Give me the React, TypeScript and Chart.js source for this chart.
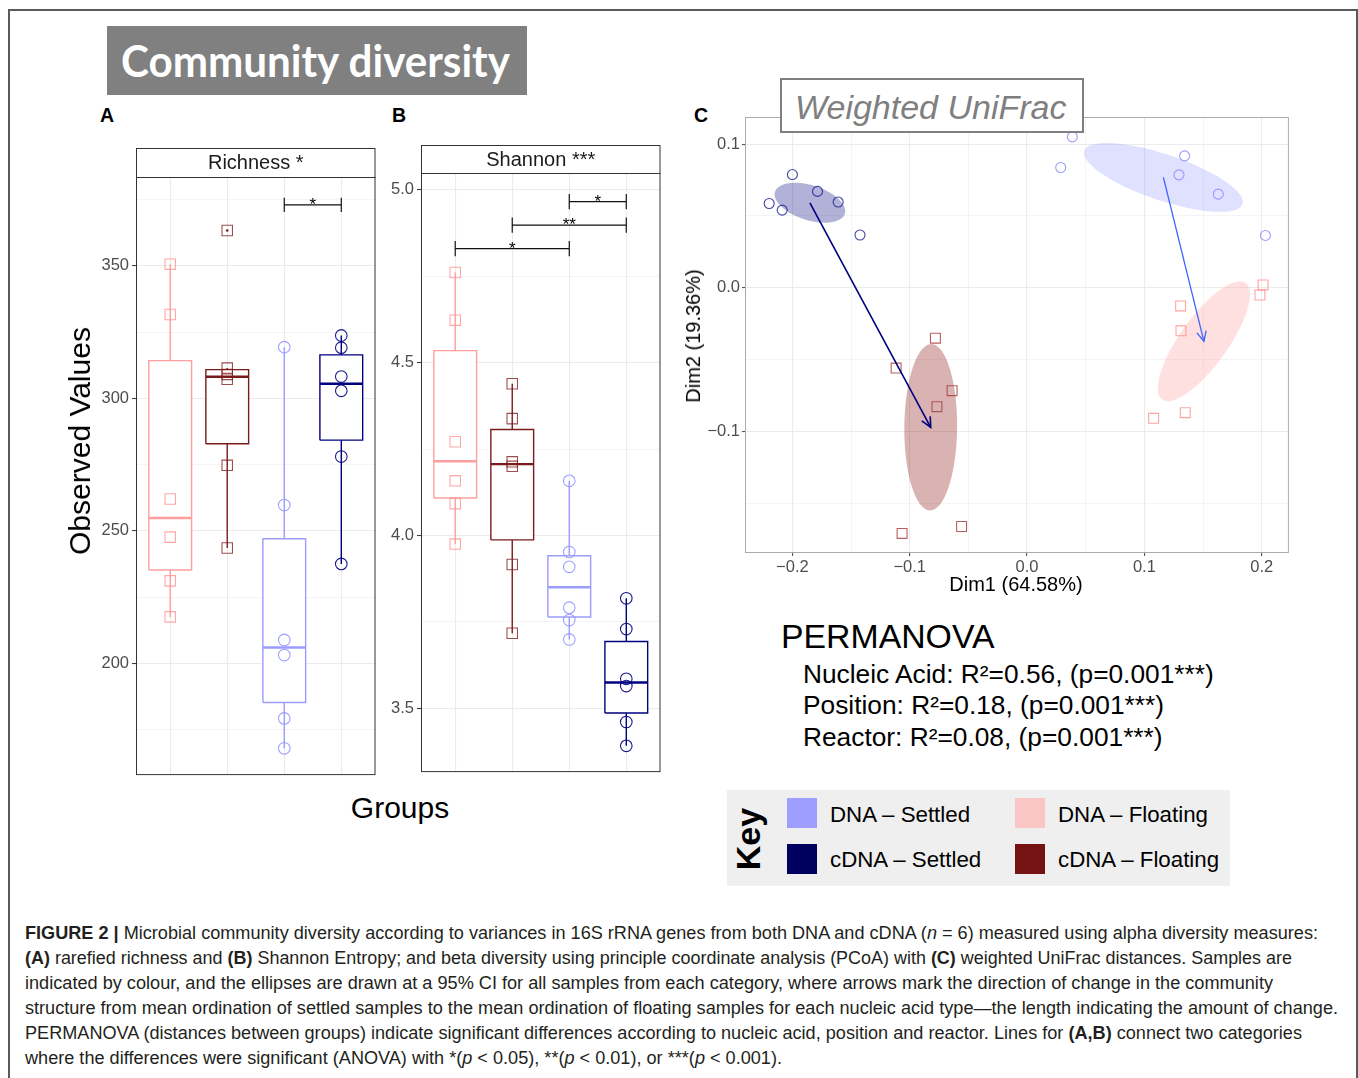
import React, { useEffect, useLayoutEffect, useRef } from 'react';
import { Chart, registerables } from 'chart.js';

Chart.register(...registerables);

const FONT = '"Liberation Sans", Arial, Helvetica, sans-serif';

// ---------- categories (box plots, left to right) ----------
const categories = ['DNA – Floating', 'cDNA – Floating', 'DNA – Settled', 'cDNA – Settled'];
const boxLineColors = ['#FF9E9E', '#7A1B1B', '#9C9CFF', '#00007F'];
const boxMarkerColors = ['rgba(255,150,150,0.85)', 'rgba(128,28,28,0.78)', 'rgba(150,150,255,0.9)', 'rgba(0,0,128,0.9)'];
const boxMarkerShapes = ['rect', 'rect', 'circle', 'circle'];

// ---------- A: Richness (observed values) ----------
const richnessDnaFloating = [350.6, 331.6, 262.0, 247.6, 231.1, 217.5];
const richnessCdnaFloating = [363.3, 311.4, 309.0, 307.2, 274.7, 243.5];
const richnessDnaSettled = [319.3, 259.7, 208.8, 203.1, 179.2, 167.9];
const richnessCdnaSettled = [323.7, 319.1, 308.2, 302.8, 278.0, 237.5];
const richnessTicks = [175, 200, 225, 250, 275, 300, 325, 350, 375];
const richnessLabelTicks = [200, 250, 300, 350];
const richnessTickLabels = ['200', '250', '300', '350'];
const richnessSigFrom = [3];
const richnessSigTo = [4];
const richnessSigY = [373];
const richnessSigLabel = ['*'];

// ---------- B: Shannon ----------
const shannonDnaFloating = [4.761, 4.623, 4.271, 4.158, 4.092, 3.975];
const shannonCdnaFloating = [4.439, 4.338, 4.213, 4.2, 3.916, 3.717];
const shannonDnaSettled = [4.158, 3.952, 3.909, 3.791, 3.755, 3.699];
const shannonCdnaSettled = [3.818, 3.729, 3.585, 3.564, 3.46, 3.391];
const shannonTicks = [3.5, 3.75, 4.0, 4.25, 4.5, 4.75, 5.0];
const shannonLabelTicks = [3.5, 4.0, 4.5, 5.0];
const shannonTickLabels = ['3.5', '4.0', '4.5', '5.0'];
const shannonSigFrom = [3, 2, 1];
const shannonSigTo = [4, 4, 3];
const shannonSigY = [4.966, 4.898, 4.83];
const shannonSigLabel = ['*', '**', '*'];

// ---------- C: Weighted UniFrac PCoA ----------
const ordGroups = ['DNA – Settled', 'cDNA – Settled', 'DNA – Floating', 'cDNA – Floating'];
const dim1DnaSettled = [0.0386, 0.0287, 0.1343, 0.1295, 0.163, 0.2032];
const dim2DnaSettled = [0.105, 0.0837, 0.0918, 0.0786, 0.0652, 0.0365];
const dim1CdnaSettled = [-0.2, -0.1786, -0.161, -0.2198, -0.2087, -0.1424];
const dim2CdnaSettled = [0.0788, 0.0671, 0.0597, 0.0587, 0.0541, 0.0368];
const dim1DnaFloating = [0.2012, 0.1985, 0.1309, 0.1312, 0.1349, 0.1079];
const dim2DnaFloating = [0.0021, -0.0049, -0.0125, -0.0298, -0.0867, -0.0906];
const dim1CdnaFloating = [-0.0781, -0.1116, -0.0639, -0.0768, -0.0558, -0.1065];
const dim2CdnaFloating = [-0.0349, -0.0557, -0.0714, -0.0825, -0.1658, -0.1706];
// conjugate semi-axes of the 95% ellipses (data units), order as ordGroups
const ellipseU = [[0.0674, -0.01853], [0.02977, -0.00763], [0.0355, 0.0405], [0.0005, 0.0578]];
const ellipseV = [[-0.00631, -0.01513], [-0.00448, -0.01159], [0.01666, -0.00967], [0.0225, 0]];
const ordMarkerColors = ['rgba(140,140,255,0.85)', 'rgba(20,20,140,0.8)', 'rgba(255,140,140,0.8)', 'rgba(165,55,55,0.8)'];
const ordMarkerShapes = ['circle', 'circle', 'rect', 'rect'];
const ellipseFills = ['rgba(153,153,255,0.3)', 'rgba(0,0,128,0.3)', 'rgba(255,153,153,0.3)', 'rgba(128,0,0,0.3)'];
const arrowColors = ['#3F63FF', '#00007F'];
const dim1Ticks = [-0.2, -0.15, -0.1, -0.05, 0, 0.05, 0.1, 0.15, 0.2];
const dim1LabelTicks = [-0.2, -0.1, 0, 0.1, 0.2];
const dim1TickLabels = ['−0.2', '−0.1', '0.0', '0.1', '0.2'];
const dim2Ticks = [-0.15, -0.1, -0.05, 0, 0.05, 0.1];
const dim2LabelTicks = [-0.1, 0, 0.1];
const dim2TickLabels = ['−0.1', '0.0', '0.1'];

// ---------- key ----------
const keyLabels = ['DNA – Settled', 'DNA – Floating', 'cDNA – Settled', 'cDNA – Floating'];
const keyColors = ['#9E9EFF', '#F9C5C5', '#00005F', '#751212'];

// ---------- helpers ----------
const mean = (a: number[]) => a.reduce((s, v) => s + v, 0) / a.length;
function quantile(sorted: number[], p: number) {
  const h = (sorted.length - 1) * p;
  const lo = Math.floor(h);
  const hi = Math.min(lo + 1, sorted.length - 1);
  return sorted[lo] + (h - lo) * (sorted[hi] - sorted[lo]);
}
function boxStats(vals: number[]) {
  const s = [...vals].sort((a, b) => a - b);
  const q1 = quantile(s, 0.25), med = quantile(s, 0.5), q3 = quantile(s, 0.75);
  const iqr = q3 - q1;
  const inside = s.filter((v) => v >= q1 - 1.5 * iqr && v <= q3 + 1.5 * iqr);
  const out = s.filter((v) => v < q1 - 1.5 * iqr || v > q3 + 1.5 * iqr);
  return { q1, med, q3, lo: inside[0], hi: inside[inside.length - 1], out };
}
const near = (list: number[], v: number) => list.findIndex((t) => Math.abs(t - v) < 1e-9);
const seg = (data: any[], color: string, w: number) => ({
  type: 'line', data, borderColor: color, borderWidth: w, pointRadius: 0, pointHoverRadius: 0,
  fill: false, tension: 0, borderCapStyle: 'butt', borderJoinStyle: 'miter',
});

function makeBoxConfig(o: any) {
  const stats = o.values.map(boxStats);
  const HW = 0.375;
  const datasets: any[] = [];
  o.values.forEach((vals: number[], i: number) =>
    datasets.push({
      type: 'scatter', data: vals.map((v) => ({ x: i + 1, y: v })), pointStyle: boxMarkerShapes[i],
      pointRadius: boxMarkerShapes[i] === 'rect' ? 7.4 : 5.8, borderColor: boxMarkerColors[i],
      backgroundColor: 'rgba(0,0,0,0)', borderWidth: 1.1, pointHoverRadius: 0,
    })
  );
  stats.forEach((s: any, i: number) => {
    if (s.out.length)
      datasets.push({ type: 'scatter', data: s.out.map((v: number) => ({ x: i + 1, y: v })), pointStyle: 'circle', pointRadius: 1.3, borderWidth: 0, backgroundColor: boxLineColors[i] });
  });
  stats.forEach((s: any, i: number) => datasets.push(seg([{ x: i + 1 - HW, y: s.med }, { x: i + 1 + HW, y: s.med }], boxLineColors[i], 2.4)));
  stats.forEach((s: any, i: number) => {
    datasets.push(seg([{ x: i + 1, y: s.q3 }, { x: i + 1, y: s.hi }], boxLineColors[i], 1.4));
    datasets.push(seg([{ x: i + 1, y: s.lo }, { x: i + 1, y: s.q1 }], boxLineColors[i], 1.4));
  });
  stats.forEach((s: any, i: number) =>
    datasets.push({
      ...seg([
        { x: i + 1 - HW, y: s.q1 }, { x: i + 1 + HW, y: s.q1 }, { x: i + 1 + HW, y: s.q3 },
        { x: i + 1 - HW, y: s.q3 }, { x: i + 1 - HW, y: s.q1 },
      ], boxLineColors[i], 1.4),
      fill: 'shape', backgroundColor: '#FFFFFF',
    })
  );
  o.sigFrom.forEach((f: number, k: number) => {
    const t = o.sigTo[k], y = o.sigY[k], d = o.tip;
    datasets.push(seg([{ x: f, y: y + d }, { x: f, y: y - d }, { x: f, y }, { x: t, y }, { x: t, y: y + d }, { x: t, y: y - d }], '#111', 1.2));
  });
  const isMajor = (v: number) => near(o.labelTicks, v) >= 0;
  const panelPlugin = {
    id: 'panel',
    afterDatasetsDraw(chart: any) {
      const { ctx } = chart;
      const xs = chart.scales.x, ys = chart.scales.y;
      ctx.save();
      ctx.fillStyle = '#000';
      ctx.font = `17px ${FONT}`;
      ctx.textAlign = 'center';
      ctx.textBaseline = 'alphabetic';
      o.sigFrom.forEach((f: number, k: number) => {
        const x = (xs.getPixelForValue(f) + xs.getPixelForValue(o.sigTo[k])) / 2;
        ctx.fillText(o.sigLabel[k], x, ys.getPixelForValue(o.sigY[k]) + 5);
      });
      ctx.restore();
    },
    afterDraw(chart: any) {
      const { ctx, chartArea: a } = chart;
      ctx.save();
      ctx.strokeStyle = '#333';
      ctx.lineWidth = 1;
      ctx.strokeRect(a.left + 0.5, a.top + 0.5, a.right - a.left - 1, a.bottom - a.top - 1);
      const h = o.stripH;
      ctx.fillStyle = '#fff';
      ctx.fillRect(a.left, a.top - h, a.right - a.left, h);
      ctx.strokeRect(a.left + 0.5, a.top - h + 0.5, a.right - a.left - 1, h);
      ctx.fillStyle = '#1A1A1A';
      ctx.font = `20px ${FONT}`;
      ctx.textAlign = 'center';
      ctx.textBaseline = 'middle';
      ctx.fillText(o.strip, (a.left + a.right) / 2, a.top - h / 2 + 1);
      ctx.restore();
    },
  };
  return {
    type: 'scatter',
    data: { datasets },
    plugins: [panelPlugin],
    options: {
      animation: false, responsive: false, maintainAspectRatio: false, devicePixelRatio: 1,
      layout: { padding: o.padding },
      plugins: { legend: { display: false }, tooltip: { enabled: false } },
      events: [],
      scales: {
        x: {
          type: 'linear', min: 0.4, max: 4.6,
          afterBuildTicks: (s: any) => { s.ticks = [1, 2, 3, 4].map((v) => ({ value: v })); },
          ticks: { display: false },
          grid: { color: '#EBEBEB', lineWidth: 1.1, drawTicks: false },
          border: { display: false },
          afterFit: (s: any) => { s.height = 0; },
        },
        y: {
          type: 'linear', min: o.yMin, max: o.yMax,
          afterBuildTicks: (s: any) => { s.ticks = o.ticks.map((v: number) => ({ value: v })); },
          ticks: {
            autoSkip: false, color: '#4D4D4D', padding: 3, font: { family: FONT, size: 16.5 },
            callback: (v: number) => { const i = near(o.labelTicks, v); return i >= 0 ? o.tickLabels[i] : ''; },
          },
          grid: {
            color: '#EBEBEB',
            lineWidth: (c: any) => (c.tick && isMajor(c.tick.value) ? 1.1 : 0.55),
            tickLength: 4,
            tickColor: (c: any) => (c.tick && isMajor(c.tick.value) ? '#333' : 'rgba(0,0,0,0)'),
            tickWidth: 1,
          },
          border: { display: false },
          afterFit: (s: any) => { s.width = o.yWidth; },
        },
      },
    },
  };
}

function makeOrdConfig() {
  const xs = [dim1DnaSettled, dim1CdnaSettled, dim1DnaFloating, dim1CdnaFloating];
  const ys = [dim2DnaSettled, dim2CdnaSettled, dim2DnaFloating, dim2CdnaFloating];
  const centres = xs.map((x, i) => [mean(x), mean(ys[i])]);
  const datasets: any[] = [];
  // arrows: settled -> floating for DNA (0->2) and cDNA (1->3)
  const arrows = [[0, 2], [1, 3]];
  xs.forEach((x, i) =>
    datasets.push({
      type: 'scatter', data: x.map((v, k) => ({ x: v, y: ys[i][k] })), pointStyle: ordMarkerShapes[i],
      pointRadius: ordMarkerShapes[i] === 'rect' ? 7 : 5, borderColor: ordMarkerColors[i],
      backgroundColor: 'rgba(0,0,0,0)', borderWidth: 1.1, pointHoverRadius: 0,
    })
  );
  arrows.forEach(([a, b], k) =>
    datasets.unshift(seg([{ x: centres[a][0], y: centres[a][1] }, { x: centres[b][0], y: centres[b][1] }], arrowColors[k], k === 1 ? 1.6 : 1.3))
  );
  const isMajorX = (v: number) => near(dim1LabelTicks, v) >= 0;
  const isMajorY = (v: number) => near(dim2LabelTicks, v) >= 0;
  const plugin = {
    id: 'ord',
    beforeDatasetsDraw(chart: any) {
      const { ctx, chartArea: ar } = chart;
      const sx = chart.scales.x, sy = chart.scales.y;
      ctx.save();
      ctx.beginPath();
      ctx.rect(ar.left, ar.top, ar.right - ar.left, ar.bottom - ar.top);
      ctx.clip();
      centres.forEach((c, i) => {
        ctx.beginPath();
        for (let k = 0; k <= 120; k++) {
          const t = (k / 120) * Math.PI * 2;
          const dx = c[0] + ellipseU[i][0] * Math.cos(t) + ellipseV[i][0] * Math.sin(t);
          const dy = c[1] + ellipseU[i][1] * Math.cos(t) + ellipseV[i][1] * Math.sin(t);
          const px = sx.getPixelForValue(dx), py = sy.getPixelForValue(dy);
          if (k === 0) ctx.moveTo(px, py); else ctx.lineTo(px, py);
        }
        ctx.closePath();
        ctx.fillStyle = ellipseFills[i];
        ctx.fill();
      });
      ctx.restore();
    },
    afterDatasetsDraw(chart: any) {
      const { ctx } = chart;
      const sx = chart.scales.x, sy = chart.scales.y;
      ctx.save();
      arrows.forEach(([a, b], k) => {
        const x0 = sx.getPixelForValue(centres[a][0]), y0 = sy.getPixelForValue(centres[a][1]);
        const x1 = sx.getPixelForValue(centres[b][0]), y1 = sy.getPixelForValue(centres[b][1]);
        const ang = Math.atan2(y1 - y0, x1 - x0);
        const L = 11, A = Math.PI / 7;
        ctx.strokeStyle = arrowColors[k];
        ctx.lineWidth = k === 1 ? 1.6 : 1.3;
        ctx.beginPath();
        ctx.moveTo(x1 - L * Math.cos(ang - A), y1 - L * Math.sin(ang - A));
        ctx.lineTo(x1, y1);
        ctx.lineTo(x1 - L * Math.cos(ang + A), y1 - L * Math.sin(ang + A));
        ctx.stroke();
      });
      ctx.restore();
    },
    afterDraw(chart: any) {
      const { ctx, chartArea: a } = chart;
      ctx.save();
      ctx.strokeStyle = '#ABABAB';
      ctx.lineWidth = 1;
      ctx.strokeRect(a.left + 0.5, a.top + 0.5, a.right - a.left - 1, a.bottom - a.top - 1);
      ctx.restore();
    },
  };
  return {
    type: 'scatter',
    data: { datasets },
    plugins: [plugin],
    options: {
      animation: false, responsive: false, maintainAspectRatio: false, devicePixelRatio: 1,
      layout: { padding: { top: 17, right: 5, bottom: 0, left: 0 } },
      plugins: { legend: { display: false }, tooltip: { enabled: false } },
      events: [],
      scales: {
        x: {
          type: 'linear', min: -0.2404, max: 0.2232,
          afterBuildTicks: (s: any) => { s.ticks = dim1Ticks.map((v) => ({ value: v })); },
          ticks: {
            autoSkip: false, maxRotation: 0, color: '#4D4D4D', padding: 2, font: { family: FONT, size: 16.5 },
            callback: (v: number) => { const i = near(dim1LabelTicks, v); return i >= 0 ? dim1TickLabels[i] : ''; },
          },
          grid: {
            color: '#EBEBEB',
            lineWidth: (c: any) => (c.tick && isMajorX(c.tick.value) ? 1.1 : 0.55),
            tickLength: 3,
            tickColor: (c: any) => (c.tick && isMajorX(c.tick.value) ? '#555' : 'rgba(0,0,0,0)'),
          },
          border: { display: false },
          afterFit: (s: any) => { s.height = 27; },
        },
        y: {
          type: 'linear', min: -0.1842, max: 0.1188,
          afterBuildTicks: (s: any) => { s.ticks = dim2Ticks.map((v) => ({ value: v })); },
          ticks: {
            autoSkip: false, color: '#4D4D4D', padding: 2, font: { family: FONT, size: 16.5 },
            callback: (v: number) => { const i = near(dim2LabelTicks, v); return i >= 0 ? dim2TickLabels[i] : ''; },
          },
          grid: {
            color: '#EBEBEB',
            lineWidth: (c: any) => (c.tick && isMajorY(c.tick.value) ? 1.1 : 0.55),
            tickLength: 3,
            tickColor: (c: any) => (c.tick && isMajorY(c.tick.value) ? '#555' : 'rgba(0,0,0,0)'),
          },
          border: { display: false },
          afterFit: (s: any) => { s.width = 65; },
        },
      },
    },
  };
}

function ChartCanvas({ left, top, width, height, make }: any) {
  const ref = useRef<HTMLCanvasElement>(null);
  useEffect(() => {
    const chart = new Chart(ref.current as HTMLCanvasElement, make());
    return () => chart.destroy();
  }, []);
  return <canvas ref={ref} width={width} height={height} style={{ position: 'absolute', left, top, width, height }} />;
}

function FitText({ width, style, children }: any) {
  const ref = useRef<HTMLSpanElement>(null);
  useLayoutEffect(() => {
    const el = ref.current;
    if (!el) return;
    el.style.transform = 'none';
    const w = el.getBoundingClientRect().width;
    if (w > 0) el.style.transform = `scaleX(${width / w})`;
  }, []);
  return (
    <span ref={ref} style={{ display: 'inline-block', whiteSpace: 'nowrap', transformOrigin: '0 0', ...style }}>
      {children}
    </span>
  );
}

// text positioned by left edge (or centre) and cap-centre y
function T({ x, y, size, center, weight, italic, color, family, children }: any) {
  return (
    <div
      style={{
        position: 'absolute', left: x, top: y - 0.488 * size, fontSize: size, lineHeight: 1,
        fontFamily: family || FONT, fontWeight: weight || 400, fontStyle: italic ? 'italic' : 'normal',
        color: color || '#000', whiteSpace: 'nowrap', transform: center ? 'translateX(-50%)' : undefined,
      }}
    >
      {children}
    </div>
  );
}
function RT({ x, y, size, weight, children }: any) {
  return (
    <div
      style={{
        position: 'absolute', left: x, top: y, fontSize: size, lineHeight: 1, fontFamily: FONT,
        fontWeight: weight || 400, color: '#000', whiteSpace: 'nowrap',
        transform: 'translate(-50%,-50%) rotate(-90deg)',
      }}
    >
      {children}
    </div>
  );
}

const captionLines = [
  <><b>FIGURE 2 |</b> Microbial community diversity according to variances in 16S rRNA genes from both DNA and cDNA (<i>n</i> = 6) measured using alpha diversity measures:</>,
  <><b>(A)</b> rarefied richness and <b>(B)</b> Shannon Entropy; and beta diversity using principle coordinate analysis (PCoA) with <b>(C)</b> weighted UniFrac distances. Samples are</>,
  <>indicated by colour, and the ellipses are drawn at a 95% CI for all samples from each category, where arrows mark the direction of change in the community</>,
  <>structure from mean ordination of settled samples to the mean ordination of floating samples for each nucleic acid type—the length indicating the amount of change.</>,
  <>PERMANOVA (distances between groups) indicate significant differences according to nucleic acid, position and reactor. Lines for <b>(A,B)</b> connect two categories</>,
  <>where the differences were significant (ANOVA) with *(<i>p</i> &lt; 0.05), **(<i>p</i> &lt; 0.01), or ***(<i>p</i> &lt; 0.001).</>,
];
const captionWidths = [1293, 1267, 1248, 1313, 1277, 757];

export default function App() {
  const richness = [richnessDnaFloating, richnessCdnaFloating, richnessDnaSettled, richnessCdnaSettled];
  const shannon = [shannonDnaFloating, shannonCdnaFloating, shannonDnaSettled, shannonCdnaSettled];
  const capSize = 17.5;
  return (
    <div style={{ position: 'absolute', left: 0, top: 0, width: 1358, height: 1078, overflow: 'hidden', background: '#fff', fontFamily: FONT }}>
      <div style={{ position: 'absolute', left: 8, top: 9, width: 1346, height: 1100, border: '2px solid #5A5A5A' }} />
      {/* title */}
      <div style={{ position: 'absolute', left: 107, top: 26, width: 420, height: 69, background: '#808080' }} />
      <div style={{ position: 'absolute', left: 121, top: 61 - 0.528 * 44, fontSize: 44, lineHeight: 1, fontFamily: 'Lato, "Open Sans", sans-serif', fontWeight: 700, color: '#fff' }}>
        <FitText width={389}>Community diversity</FitText>
      </div>
      <T x={100} y={116} size={19.5} weight={700}>A</T>
      <T x={392} y={116} size={19.5} weight={700}>B</T>
      <T x={694} y={116} size={19.5} weight={700}>C</T>

      <ChartCanvas left={90} top={140} width={294} height={648}
        make={() => makeBoxConfig({
          values: richness, sigFrom: richnessSigFrom, sigTo: richnessSigTo, sigY: richnessSigY, sigLabel: richnessSigLabel,
          tip: 2.7, yMin: 157.8, yMax: 383.5, ticks: richnessTicks, labelTicks: richnessLabelTicks, tickLabels: richnessTickLabels,
          yWidth: 46, padding: { top: 37, right: 1, bottom: 12, left: 0 }, strip: 'Richness *', stripH: 29,
        })} />
      <ChartCanvas left={380} top={140} width={289} height={645}
        make={() => makeBoxConfig({
          values: shannon, sigFrom: shannonSigFrom, sigTo: shannonSigTo, sigY: shannonSigY, sigLabel: shannonSigLabel,
          tip: 0.022, yMin: 3.315, yMax: 5.049, ticks: shannonTicks, labelTicks: shannonLabelTicks, tickLabels: shannonTickLabels,
          yWidth: 41, padding: { top: 33, right: 1, bottom: 12, left: 0 }, strip: 'Shannon ***', stripH: 28,
        })} />
      <RT x={80} y={441} size={30}>Observed Values</RT>
      <T x={400} y={808} size={30} center>Groups</T>

      <ChartCanvas left={680} top={100} width={617} height={480} make={makeOrdConfig} />
      <div style={{ position: 'absolute', left: 780, top: 78, width: 300, height: 51, border: '2px solid #7F7F7F', background: '#fff' }} />
      <T x={795} y={107} size={34} italic color="#7F7F7F">Weighted UniFrac</T>
      <RT x={693} y={336} size={20}>Dim2 (19.36%)</RT>
      <T x={1016} y={584} size={20} center>Dim1 (64.58%)</T>

      <T x={781} y={636} size={33.8}>PERMANOVA</T>
      <T x={803} y={674} size={26.3}>Nucleic Acid: R²=0.56, (p=0.001***)</T>
      <T x={803} y={705} size={26.3}>Position: R²=0.18, (p=0.001***)</T>
      <T x={803} y={737} size={26.3}>Reactor: R²=0.08, (p=0.001***)</T>

      {/* key */}
      <div style={{ position: 'absolute', left: 727, top: 790, width: 503, height: 96, background: '#EFEFEF' }} />
      <RT x={748} y={839} size={34} weight={700}>Key</RT>
      {keyLabels.map((lab, i) => {
        const col = i % 2, row = Math.floor(i / 2);
        const sx = col === 0 ? 787 : 1015;
        const sy = row === 0 ? 798 : 844;
        return (
          <React.Fragment key={lab}>
            <div style={{ position: 'absolute', left: sx, top: sy, width: 30, height: 30, background: keyColors[i] }} />
            <T x={col === 0 ? 830 : 1058} y={row === 0 ? 815 : 860} size={22.3}>{lab}</T>
          </React.Fragment>
        );
      })}

      {/* caption */}
      {captionLines.map((ln, i) => (
        <div key={i} style={{ position: 'absolute', left: 25, top: 935 + i * 25 - 0.586 * capSize, fontSize: capSize, lineHeight: 1, color: '#231F20', fontFamily: FONT }}>
          <FitText width={captionWidths[i]}>{ln}</FitText>
        </div>
      ))}
    </div>
  );
}
